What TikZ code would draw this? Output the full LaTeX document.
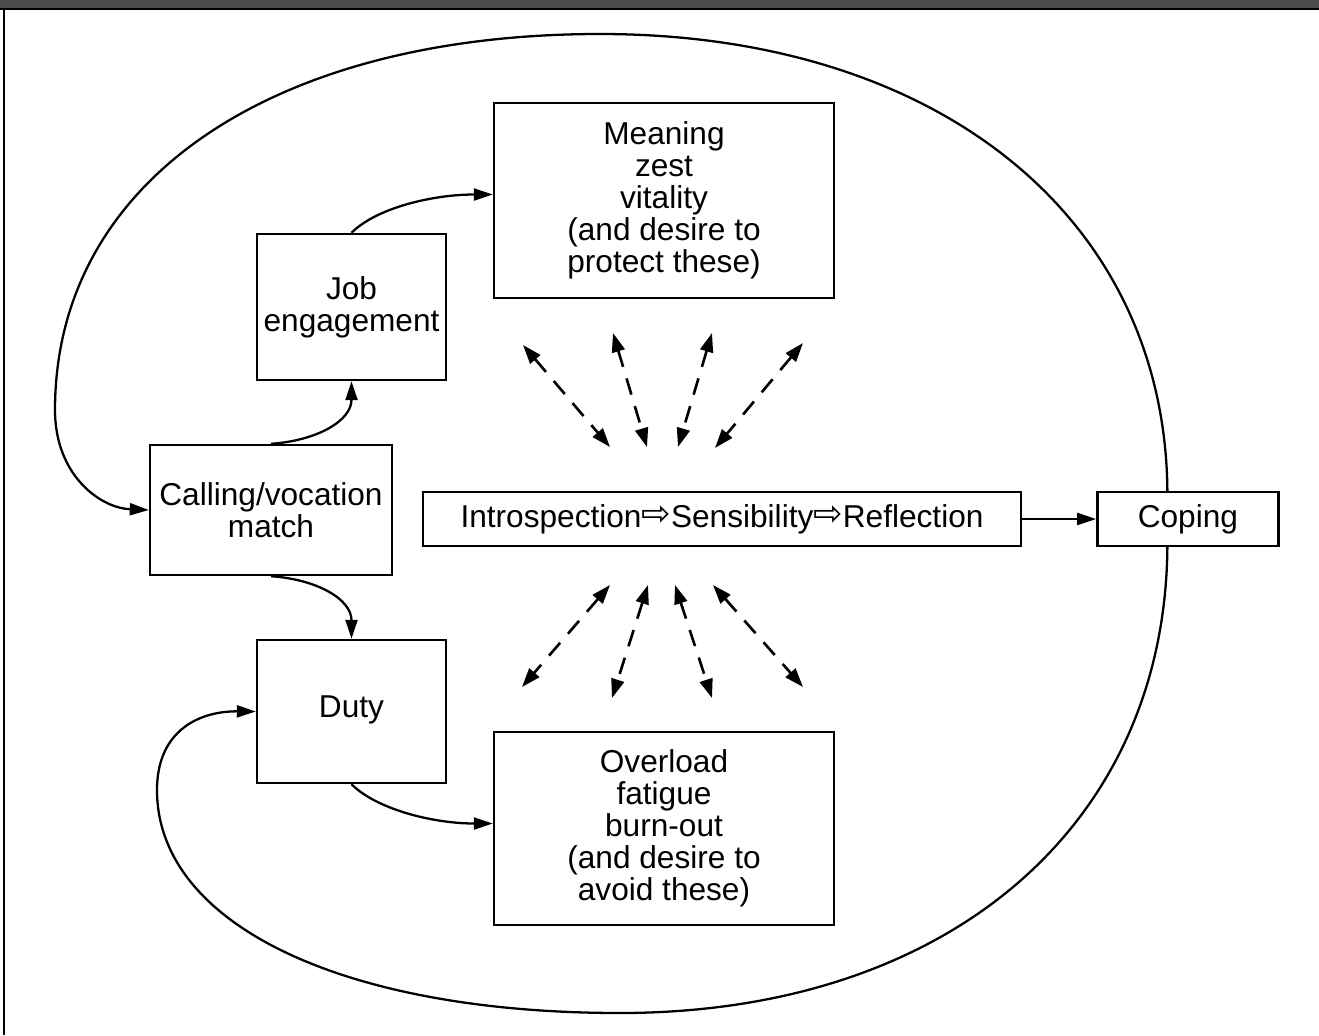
\documentclass[tikz,border=0pt]{standalone}
\usepackage{fontspec}
\setmainfont{Liberation Sans}
\newfontfamily\arrowfont{DejaVu Sans}
\usetikzlibrary{arrows.meta,positioning}
\tikzset{
  >=Latex,
  box/.style={
    rectangle, draw=black, line width=1.4pt, inner sep=2pt, align=center,
    font=\fontsize{18}{18.2}\selectfont
  },
  arrow/.style={-{Triangle[length=3.8mm,width=2.4mm]}, line width=1.3pt, draw=black},
  dasharrow/.style={{Triangle[length=3.8mm,width=2.6mm]}-{Triangle[length=3.8mm,width=2.6mm]},
    line width=1.5pt, dash pattern=on 3.4mm off 2.4mm},
  frame/.style={line width=1.3pt, draw=black}
}
\newcommand{\thenarrow}{{\arrowfont\fontsize{20}{20}\selectfont\raisebox{0.1ex}{⇨}}}

\begin{document}
\begin{tikzpicture}[x=0.02cm, y=-0.02cm]
\useasboundingbox (0,0) rectangle (1319,1035);
% scanned page edge
\fill[black!70] (0,0) rectangle (1319,8);
\draw[frame] (0,9) -- (1319,9);
\draw[frame] (4,9) -- (4,1035);

\node[box, minimum width=6.8cm, minimum height=3.9cm] (meaning) at (664,200.5) {Meaning\\zest\\vitality\\(and desire to\\protect these)};
\node[box, minimum width=3.78cm, minimum height=2.92cm] (job) at (351.5,307) {Job\\engagement};
\node[box, minimum width=4.84cm, minimum height=2.6cm] (calling) at (271,510) {Calling/vocation\\match};
\node[box, minimum width=3.78cm, minimum height=2.86cm] (duty) at (351.5,711.5) {\raisebox{0.3em}{Duty}};
\node[box, minimum width=6.8cm, minimum height=3.86cm] (overload) at (664,828.5) {Overload\\fatigue\\burn-out\\(and desire to\\avoid these)};
\node[box, minimum width=11.96cm, minimum height=1.08cm] (intro) at (722,519) {Introspection\thenarrow Sensibility\thenarrow Reflection};
\node[box, minimum width=3.62cm, minimum height=1.08cm, right=1.48cm of intro] (coping) {Coping};

\coordinate (looptop) at ([xshift=-0.41cm]coping.north);
\coordinate (loopbot) at ([xshift=-0.41cm]coping.south);

\draw[arrow] (calling.north) .. controls +(45,-3) and +(0,40) .. (job.south);
\draw[arrow] (calling.south) .. controls +(45,3) and +(0,-40) .. (duty.north);
\draw[arrow] (job.north) .. controls +(25,-25) and +(-60,0) .. ([yshift=0.12cm]meaning.west);
\draw[arrow] (duty.south) .. controls +(25,25) and +(-60,0) .. ([yshift=0.1cm]overload.west);
\draw[arrow] (intro) -- (coping);

% feedback loops round the whole figure
\draw[arrow] (looptop) .. controls (1165,218) and (939,34) .. (600,34)
  .. controls (273,34) and (55,180) .. (55,410)
  .. controls (55,475) and (100,508) .. (calling.west);
\draw[arrow] (loopbot) .. controls (1165,827) and (947,1013) .. (620,1013)
  .. controls (342,1013) and (157,924) .. (157,790)
  .. controls (157,730) and (200,711) .. (duty.west);

% dashed links above and below the process box
\coordinate (ta1) at (523,345); \coordinate (tb1) at (610,447);
\coordinate (ta2) at (613,333); \coordinate (tb2) at (647,447);
\coordinate (ta3) at (712,333); \coordinate (tb3) at (678,447);
\coordinate (ta4) at (803,343); \coordinate (tb4) at (715,448);
\coordinate (ba1) at (610,585); \coordinate (bb1) at (522,687);
\coordinate (ba2) at (648,585); \coordinate (bb2) at (612,698);
\coordinate (ba3) at (675,585); \coordinate (bb3) at (712,698);
\coordinate (ba4) at (713,585); \coordinate (bb4) at (803,687);
\draw[dasharrow] (ta1) -- (tb1);
\draw[dasharrow] (ta2) -- (tb2);
\draw[dasharrow] (ta3) -- (tb3);
\draw[dasharrow] (ta4) -- (tb4);
\draw[dasharrow] (ba1) -- (bb1);
\draw[dasharrow] (ba2) -- (bb2);
\draw[dasharrow] (ba3) -- (bb3);
\draw[dasharrow] (ba4) -- (bb4);
\end{tikzpicture}
\end{document}
